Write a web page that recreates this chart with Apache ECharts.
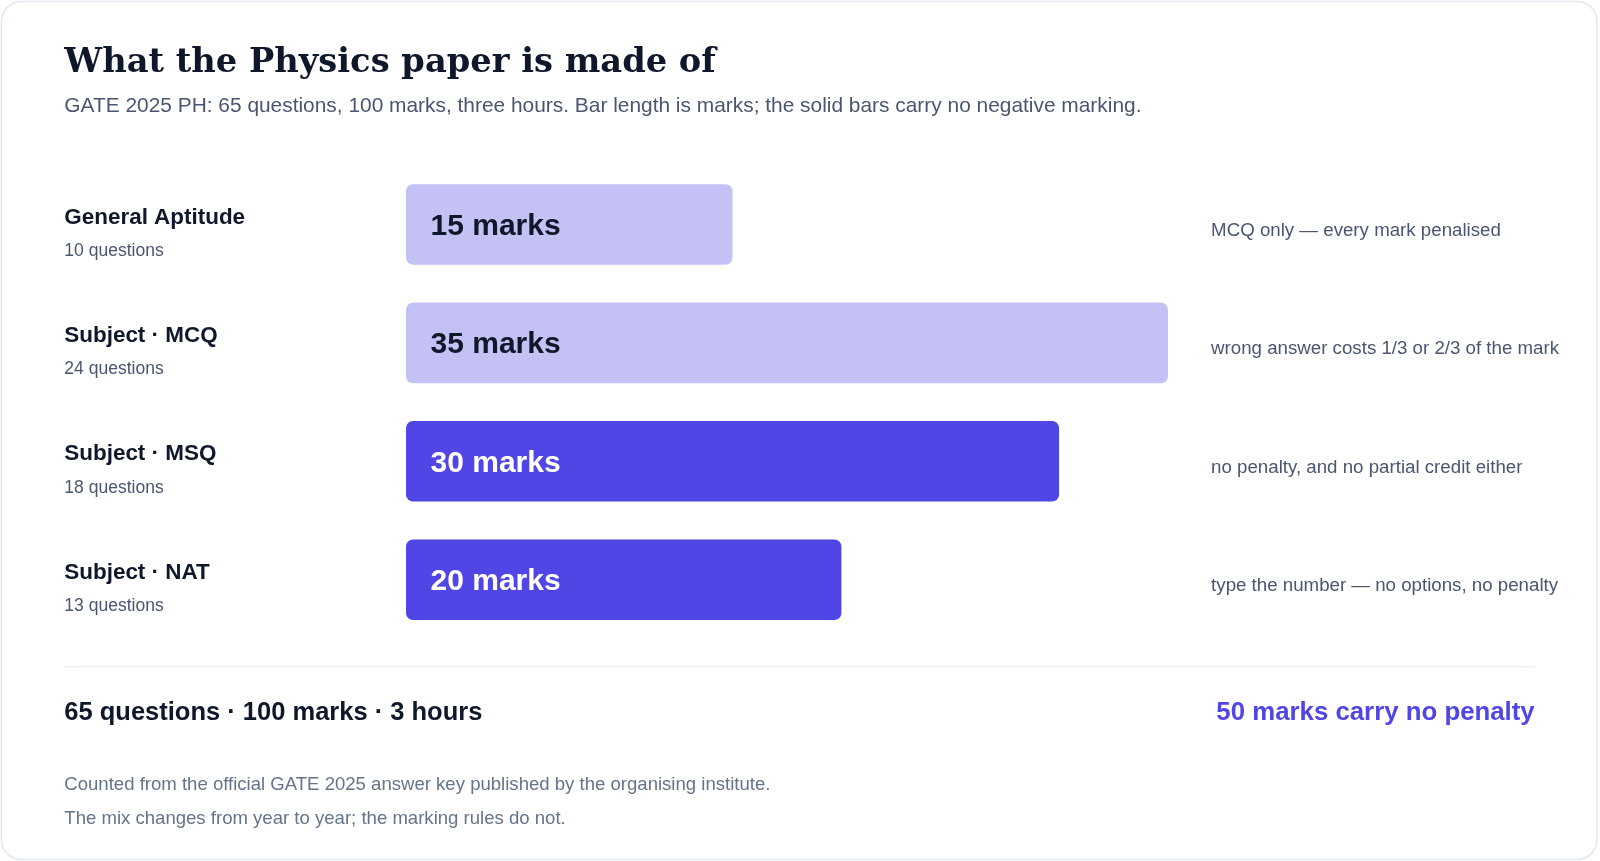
<!DOCTYPE html>
<html>
<head>
<meta charset="utf-8">
<script src="https://cdn.jsdelivr.net/npm/echarts@6/dist/echarts.min.js"></script>
<style>
html,body{margin:0;padding:0;background:#ffffff;}
#chart{width:1600px;height:861px;}
</style>
</head>
<body>
<div id="chart"></div>
<script>
const categories = ['General Aptitude', 'Subject · MCQ', 'Subject · MSQ', 'Subject · NAT'];
const questionCounts = [10, 24, 18, 13];
const marks = [15, 35, 30, 20];
const notes = [
  'MCQ only — every mark penalised',
  'wrong answer costs 1/3 or 2/3 of the mark',
  'no penalty, and no partial credit either',
  'type the number — no options, no penalty'
];
const negativeMarking = [true, true, false, false];

const titleText = 'What the Physics paper is made of';
const subtitleText = 'GATE 2025 PH: 65 questions, 100 marks, three hours. Bar length is marks; the solid bars carry no negative marking.';
const summaryText = '65 questions · 100 marks · 3 hours';
const accentText = '50 marks carry no penalty';
const footnotes = [
  'Counted from the official GATE 2025 answer key published by the organising institute.',
  'The mix changes from year to year; the marking rules do not.'
];

const SANS = '"Liberation Sans", Arial, Helvetica, sans-serif';
const SERIF = '"DejaVu Serif", Georgia, serif';
const INK = '#0f172a';
const SLATE = '#4a5671';
const MUTED = '#64748b';
const LIGHT = '#c4c1f4';
const DARK = '#4f46e5';

const chart = echarts.init(document.getElementById('chart'), null, {renderer: 'canvas'});

const option = {
  backgroundColor: '#ffffff',
  animation: false,
  grid: {left: 406, width: 783.7, top: 165.3, height: 473.6, containLabel: false, outerBoundsMode: 'none'},
  xAxis: {type: 'value', min: 0, max: 36, show: false},
  yAxis: [
    {
      type: 'category', data: categories, inverse: true,
      axisLine: {show: false}, axisTick: {show: false}, splitLine: {show: false},
      axisLabel: {
        margin: 341.7, align: 'left',
        padding: [19.4, 0, 0, 0],
        formatter: function (v, i) { return '{n|' + v + '}\n{q|' + questionCounts[i] + ' questions}'; },
        rich: {
          n: {fontFamily: SANS, fontSize: 22.45, fontWeight: 'bold', color: INK, lineHeight: 33.7},
          q: {fontFamily: SANS, fontSize: 17.55, color: SLATE, lineHeight: 33.7}
        }
      }
    },
    {
      type: 'category', data: notes, inverse: true, position: 'right',
      axisLabel: {
        margin: 21.4, align: 'left', padding: [12.5, 0, 0, 0],
        formatter: function (v) { return '{a|' + v + '}'; },
        rich: {a: {fontFamily: SANS, fontSize: 18.7, color: SLATE, lineHeight: 24}}
      },
      axisLine: {show: false}, axisTick: {show: false}, splitLine: {show: false}
    }
  ],
  series: [{
    type: 'bar',
    yAxisIndex: 0,
    barWidth: 80.6,
    data: marks.map(function (m, i) {
      return {
        value: m,
        itemStyle: {color: negativeMarking[i] ? LIGHT : DARK, borderRadius: 7},
        label: {color: negativeMarking[i] ? INK : '#ffffff'}
      };
    }),
    label: {
      show: true, position: 'insideLeft', distance: 24.5, offset: [0, 2.2],
      fontFamily: SANS, fontSize: 30, fontWeight: 'bold',
      formatter: function (p) { return p.value + ' marks'; }
    }
  }],
  graphic: [
    {type: 'rect', z: -10, shape: {x: 1.5, y: 1.5, width: 1595.5, height: 858, r: 20},
     style: {fill: '#ffffff', stroke: '#e2e8f0', lineWidth: 1.5}},
    {type: 'text', x: 64.3, y: 63.3, style: {text: titleText, font: 'bold 33.7px ' + SERIF, fill: INK, textVerticalAlign: 'middle'}},
    {type: 'text', x: 64.3, y: 106.1, style: {text: subtitleText, font: '20.9px ' + SANS, fill: SLATE, textVerticalAlign: 'middle'}},
    {type: 'line', shape: {x1: 64.3, y1: 666.8, x2: 1534.7, y2: 666.8}, style: {stroke: '#e2e8f0', lineWidth: 1}},
    {type: 'text', x: 64.3, y: 713.3, style: {text: summaryText, font: 'bold 25.5px ' + SANS, fill: INK, textVerticalAlign: 'middle'}},
    {type: 'text', x: 1534.7, y: 713.3, style: {text: accentText, font: 'bold 25.8px ' + SANS, fill: DARK, textAlign: 'right', textVerticalAlign: 'middle'}},
    {type: 'text', x: 64.3, y: 784.7, style: {text: footnotes[0], font: '18.57px ' + SANS, fill: MUTED, textVerticalAlign: 'middle'}},
    {type: 'text', x: 64.3, y: 818.4, style: {text: footnotes[1], font: '18.57px ' + SANS, fill: MUTED, textVerticalAlign: 'middle'}}
  ]
};
chart.setOption(option);
</script>
</body>
</html>
